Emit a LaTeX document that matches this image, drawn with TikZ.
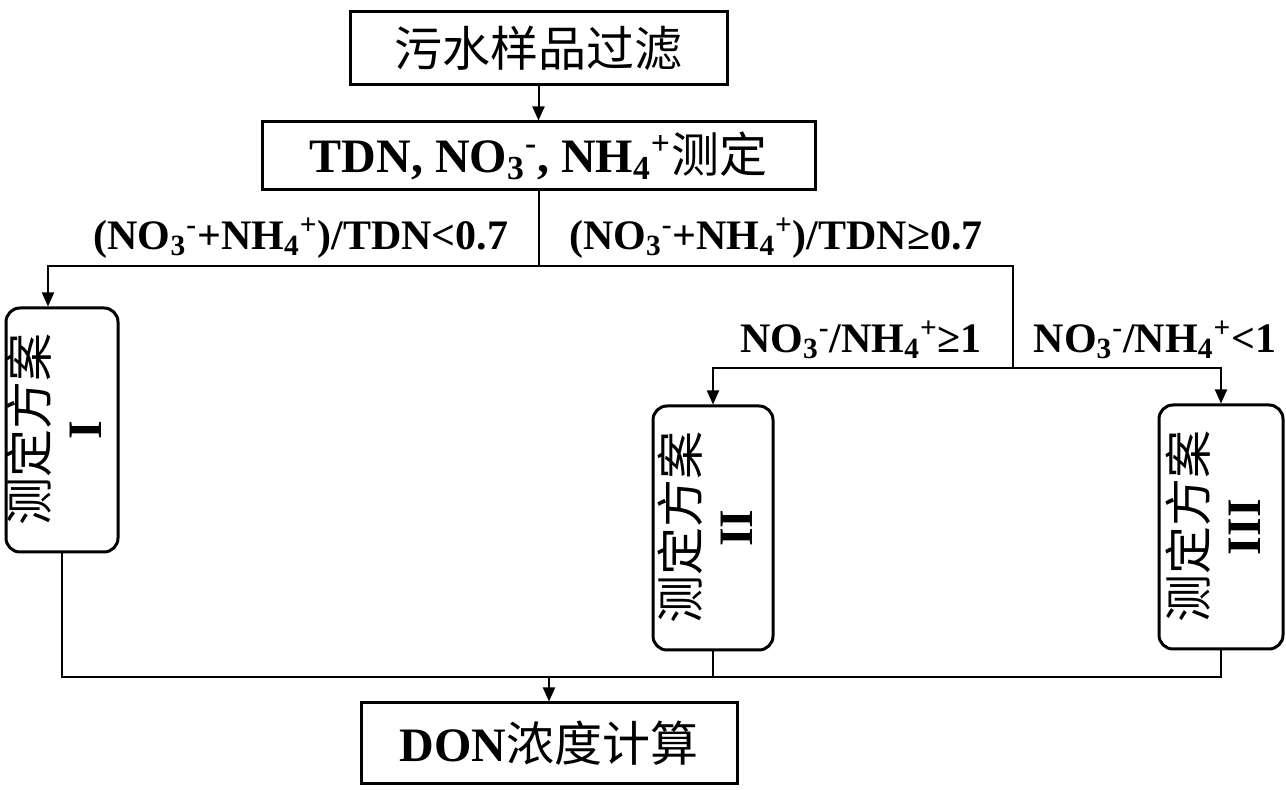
\documentclass[tikz,border=0pt]{standalone}
\usepackage{fontspec}
\setmainfont{Liberation Serif}
\newfontfamily\cjk{Noto Sans CJK SC}
\newcommand{\zh}[1]{{\cjk\mdseries #1}}
\usetikzlibrary{arrows.meta}

\begin{document}
\begin{tikzpicture}[x=0.5pt,y=-0.5pt,
	box/.style={draw,line width=1.5pt,inner sep=0pt,font=\fontsize{24}{27}\selectfont\bfseries},
	plan/.style={box,rounded corners=7pt,minimum height=122pt},
	lbl/.style={font=\fontsize{21}{24}\selectfont\bfseries},
	line/.style={line width=1pt},
	arr/.style={line,-{Triangle[length=7pt,width=6pt]}}]
	\useasboundingbox (0,0) rectangle (1286,790);
	
	\node[box,minimum width=188.5pt,minimum height=36.5pt] (filt) at (538.5,48.5) {\zh{污水样品过滤}};
	\node[box,minimum width=276.5pt,minimum height=34pt] (meas) at (538.5,156) {TDN, NO\textsubscript{3}\textsuperscript{-}, NH\textsubscript{4}\textsuperscript{+}\zh{测定}};
	
	\node[plan,minimum width=56pt] (planI) at (62,430) {\rotatebox{90}{\begin{tabular}{@{}c@{}}\zh{测定方案}\\ I\end{tabular}}};
	\node[plan,minimum width=60pt] (planII) at (713,528) {\rotatebox{90}{\begin{tabular}{@{}c@{}}\zh{测定方案}\\ II\end{tabular}}};
	\node[plan,minimum width=62pt] (planIII) at (1221,527) {\rotatebox{90}{\begin{tabular}{@{}c@{}}\zh{测定方案}\\ III\end{tabular}}};
	
	\node[box,minimum width=188pt,minimum height=40.5pt] (don) at (549,743.5) {DON\zh{浓度计算}};
	
	% conditions
	\node[lbl] (condA) at (301,238) {(NO\textsubscript{3}\textsuperscript{-}+NH\textsubscript{4}\textsuperscript{+})/TDN<0.7};
	\node[lbl] (condB) at (776,238) {(NO\textsubscript{3}\textsuperscript{-}+NH\textsubscript{4}\textsuperscript{+})/TDN≥0.7};
	\node[lbl] (condC) at (861,340) {NO\textsubscript{3}\textsuperscript{-}/NH\textsubscript{4}\textsuperscript{+}≥1};
	\node[lbl] (condD) at (1155,340) {NO\textsubscript{3}\textsuperscript{-}/NH\textsubscript{4}\textsuperscript{+}<1};
	
	\coordinate (sp) at (538.5,266);
	\coordinate (sp2) at (1013,368);
	\coordinate (jn) at (549,677);
	
	\draw[arr] (filt) -- (meas);
	\draw[line] (meas.south) -- (sp);
	\draw[arr] (sp) -| ([xshift=-7pt]planI.north);
	\draw[line] (sp) -| (sp2);
	\foreach \p in {planII,planIII}
	\draw[arr] (sp2) -| (\p.north);
	
	\draw[line] (planI.south) |- (planII.south |- jn) -- (planII.south);
	\draw[line] (planII.south |- jn) -- (planIII.south |- jn) -- (planIII.south);
	\draw[arr] (jn) -- (don.north);
\end{tikzpicture}
\end{document}
